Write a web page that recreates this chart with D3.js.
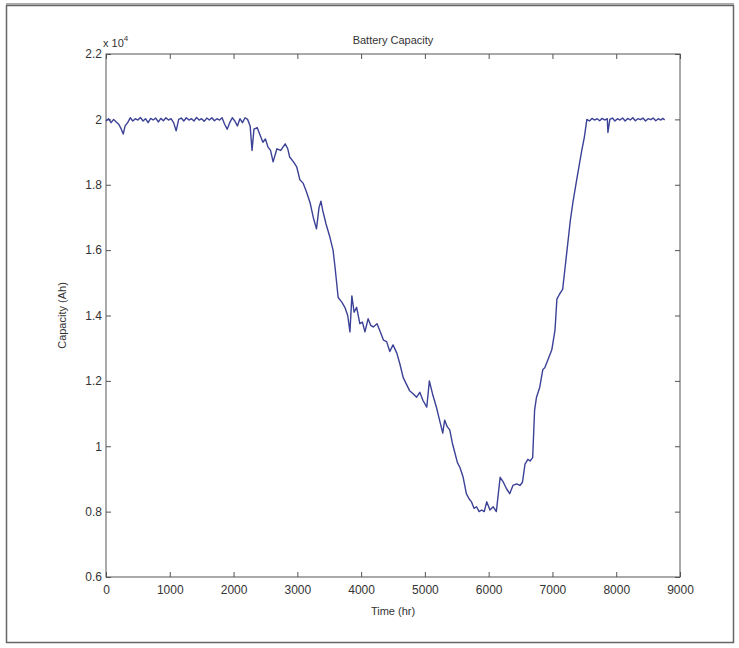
<!DOCTYPE html>
<html><head><meta charset="utf-8">
<script src="https://cdn.jsdelivr.net/npm/d3@7"></script>
<style>body{margin:0;background:#fff}svg{display:block}text{font-family:"Liberation Sans",Arial,sans-serif;fill:#333}</style>
</head><body>
<script>
const timeHr = [
0,40,80,120,160,200,240,270,300,340,
380,420,460,500,540,580,620,660,700,740,
780,820,860,900,940,980,1020,1060,1100,1140,
1180,1220,1260,1300,1340,1380,1420,1460,1500,1540,
1580,1620,1660,1700,1740,1780,1820,1860,1900,1940,
1980,2020,2060,2100,2140,2180,2220,2260,2290,2320,
2370,2420,2460,2500,2540,2580,2620,2680,2740,2810,
2850,2880,2940,2990,3040,3090,3140,3200,3250,3300,
3340,3370,3400,3450,3510,3560,3590,3640,3700,3745,
3790,3825,3855,3890,3930,3980,4020,4060,4110,4150,
4190,4250,4300,4350,4400,4450,4500,4560,4610,4660,
4710,4760,4820,4870,4920,4970,5030,5070,5120,5180,
5230,5280,5310,5350,5390,5430,5470,5510,5550,5600,
5650,5690,5730,5770,5810,5850,5890,5930,5970,6020,
6070,6120,6180,6230,6280,6330,6380,6440,6490,6530,
6570,6615,6650,6690,6720,6750,6800,6850,6880,6920,
6990,7040,7070,7110,7160,7200,7240,7280,7320,7380,
7420,7460,7500,7540,7580,7620,7660,7700,7740,7780,
7820,7860,7870,7900,7940,7980,8020,8060,8100,8140,
8180,8220,8260,8300,8340,8380,8420,8460,8500,8540,
8580,8620,8660,8700,8730,8760];
const capacityAh = [
19950,20020,19900,20000,19920,19850,19700,19550,19800,19900,
20050,19950,20020,19980,20060,19950,20020,19900,20030,19980,
20040,19920,20030,19960,20050,19980,20020,19900,19650,20000,
20040,19950,20050,19980,20020,19950,20060,19980,20020,19940,
20040,19980,20050,19960,20020,19980,20050,19850,19700,19900,
20050,19950,19800,20020,19900,20050,20000,19800,19050,19700,
19750,19500,19300,19400,19150,19050,18700,19100,19050,19250,
19100,18850,18700,18550,18150,18050,17800,17450,17000,16650,
17300,17500,17200,16800,16400,16000,15500,14550,14400,14250,
14000,13500,14600,14100,14250,13750,13800,13500,13900,13700,
13650,13750,13500,13250,13200,12900,13100,12850,12500,12100,
11900,11700,11600,11500,11650,11400,11200,12000,11600,11200,
10800,10400,10800,10600,10500,10100,9800,9500,9350,9050,
8550,8400,8300,8100,8150,8000,8050,8000,8300,8050,
8150,8000,9050,8900,8700,8550,8800,8850,8800,8900,
9450,9600,9550,9650,11100,11500,11800,12350,12400,12600,
12950,13550,14500,14650,14800,15500,16200,16900,17450,18150,
18600,19050,19450,20000,19950,20030,19980,20020,19960,20030,
19980,20020,19600,20000,20040,19950,20020,19980,20040,19950,
20030,19980,20050,19960,20020,19990,20040,19950,20020,19990,
20040,19960,20020,19980,20030,19980];
const xTicks = [0,1000,2000,3000,4000,5000,6000,7000,8000,9000];
const yTicks = [6000,8000,10000,12000,14000,16000,18000,20000,22000];
const titleText = "Battery Capacity";
const xLabel = "Time (hr)";
const yLabel = "Capacity (Ah)";

const W = 739, H = 648;
const m = {left:106, right:680, top:54, bottom:577};
const svg = d3.select("body").append("svg").attr("width",W).attr("height",H);
svg.append("rect").attr("x",0).attr("y",0).attr("width",W).attr("height",H).attr("fill","#fff");
// outer frame
svg.append("rect").attr("x",6.5).attr("y",5.5).attr("width",727).attr("height",637)
  .attr("fill","none").attr("stroke","#666").attr("stroke-width",1.5);
svg.append("line").attr("x1",6).attr("x2",734).attr("y1",4).attr("y2",4).attr("stroke","#aaa").attr("stroke-width",2);

const x = d3.scaleLinear().domain([0,9000]).range([m.left,m.right]);
const y = d3.scaleLinear().domain([6000,22000]).range([m.bottom,m.top]);
const fmtY = d => String(+(d/1e4).toFixed(1));

const axisStyle = g => {
  g.select(".domain").remove();
  g.selectAll(".tick line").attr("stroke","#555");
  g.selectAll(".tick text").attr("fill","#333").style("font-size","12px").style("font-family","'Liberation Sans',Arial,sans-serif");
};
svg.append("g").attr("transform",`translate(0,${m.bottom})`)
  .call(d3.axisBottom(x).tickValues(xTicks).tickSize(-5).tickPadding(8).tickFormat(d3.format("d")))
  .call(axisStyle);
svg.append("g").attr("transform",`translate(0,${m.top})`)
  .call(d3.axisTop(x).tickValues(xTicks).tickSize(-5).tickFormat(""))
  .call(axisStyle);
svg.append("g").attr("transform",`translate(${m.left},0)`)
  .call(d3.axisLeft(y).tickValues(yTicks).tickSize(-5).tickPadding(4).tickFormat(fmtY))
  .call(axisStyle);
svg.append("g").attr("transform",`translate(${m.right},0)`)
  .call(d3.axisRight(y).tickValues(yTicks).tickSize(-5).tickFormat(""))
  .call(axisStyle);
svg.append("rect").attr("x",m.left).attr("y",m.top).attr("width",m.right-m.left).attr("height",m.bottom-m.top)
  .attr("fill","none").attr("stroke","#555").attr("stroke-width",1);

const line = d3.line().x((d,i)=>x(timeHr[i])).y((d,i)=>y(capacityAh[i]));
svg.append("path").datum(capacityAh).attr("d",line).attr("fill","none")
  .attr("stroke","#3b4196").attr("stroke-width",1.4).attr("stroke-linejoin","round");

svg.append("text").attr("x",(m.left+m.right)/2).attr("y",44).attr("text-anchor","middle")
  .style("font-size","11px").text(titleText);
const e = svg.append("text").attr("x",m.left-3).attr("y",47).style("font-size","11px");
e.append("tspan").text("x 10");
e.append("tspan").attr("dy",-6).style("font-size","8px").text("4");
svg.append("text").attr("x",(m.left+m.right)/2).attr("y",615).attr("text-anchor","middle")
  .style("font-size","11px").text(xLabel);
svg.append("text").attr("transform",`translate(66,${(m.top+m.bottom)/2}) rotate(-90)`).attr("text-anchor","middle")
  .style("font-size","11px").text(yLabel);
</script>
</body></html>
